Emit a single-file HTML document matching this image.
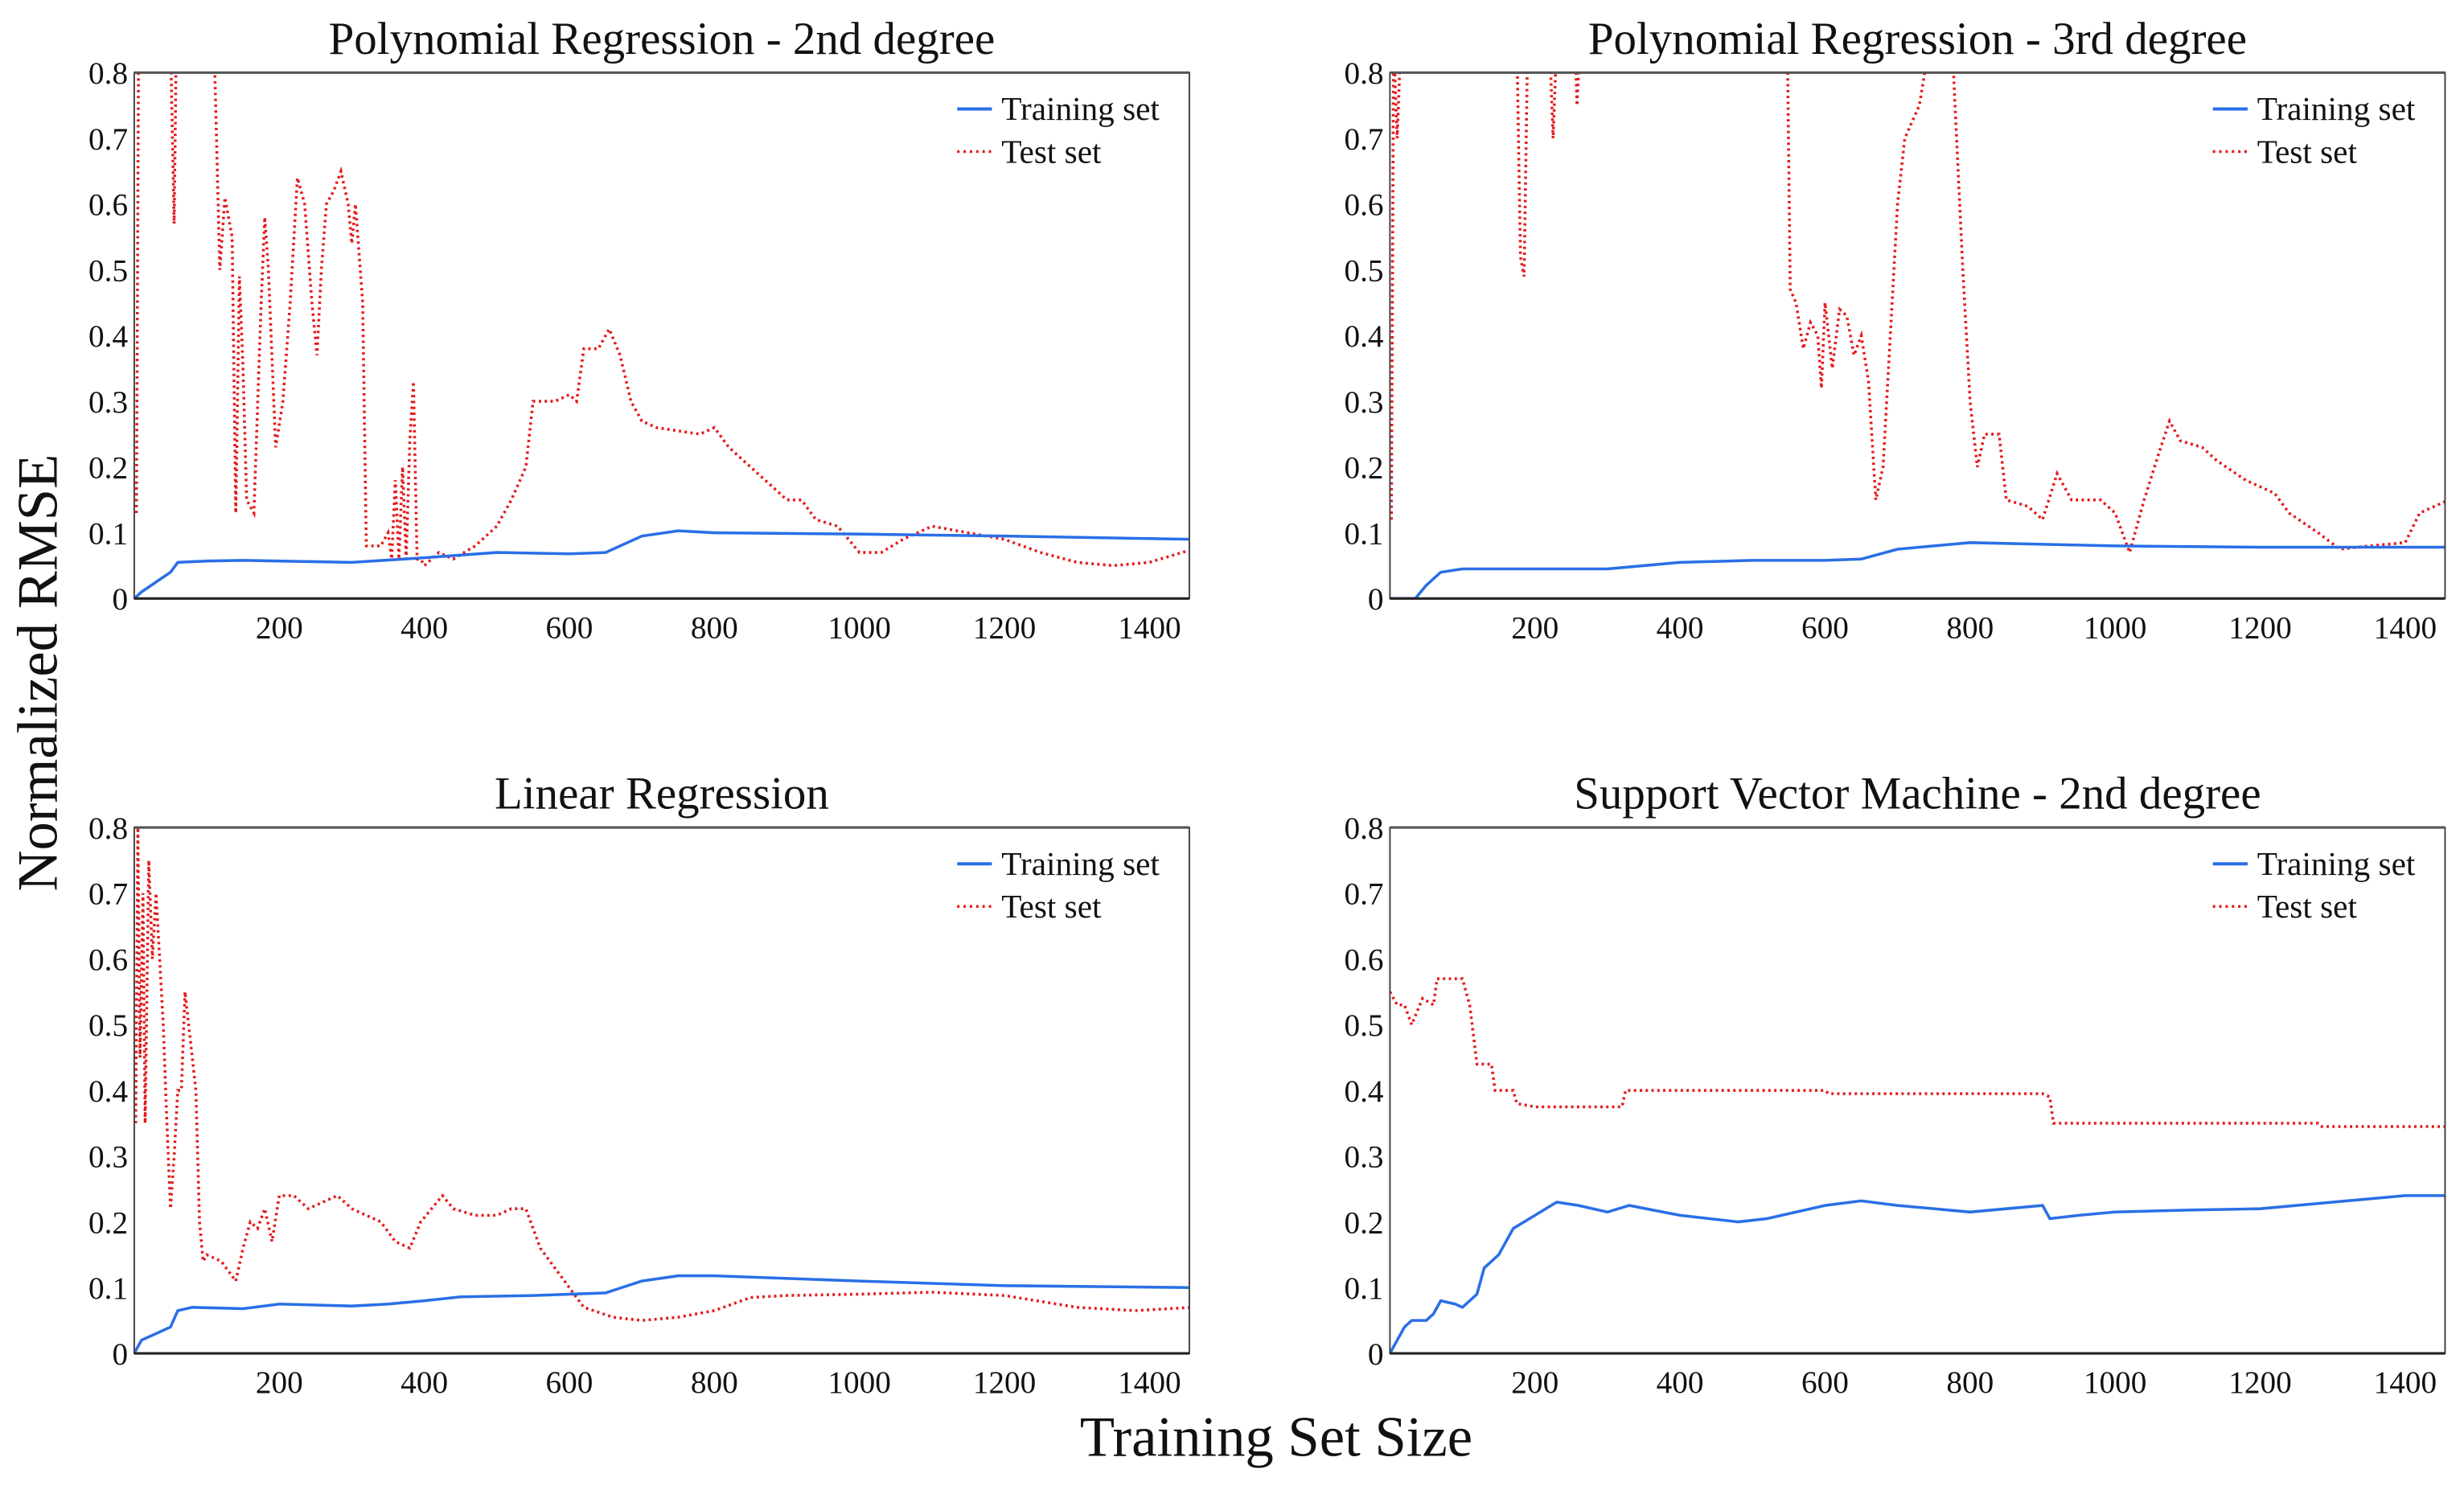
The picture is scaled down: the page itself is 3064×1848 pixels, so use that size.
<!DOCTYPE html>
<html><head><meta charset="utf-8"><style>
html,body{margin:0;padding:0;background:#fff;}
svg{display:block;}
text{font-family:"Liberation Serif",serif;fill:#111;}
</style></head><body>
<svg id="fig" width="3064" height="1848" viewBox="0 0 1560 941" preserveAspectRatio="none" xmlns="http://www.w3.org/2000/svg">
<text x="36" y="426" font-size="36" text-anchor="middle" transform="rotate(-90 36 426)">Normalized RMSE</text>
<text x="808" y="922" font-size="36" text-anchor="middle">Training Set Size</text>
</svg>
<script>
// ---- data ----
const panelTitles = ["Polynomial Regression - 2nd degree","Polynomial Regression - 3rd degree","Linear Regression","Support Vector Machine - 2nd degree"];
const xTicks = [200,400,600,800,1000,1200,1400];
const yTicks = [0,0.1,0.2,0.3,0.4,0.5,0.6,0.7,0.8];
const yTickLabels = ["0","0.1","0.2","0.3","0.4","0.5","0.6","0.7","0.8"];
const legendLabels = ["Training set","Test set"];

const poly2TrainX = [0,10,30,50,60,100,150,200,300,400,500,600,650,700,750,800,1000,1200,1460];
const poly2TrainY = [0,0.01,0.025,0.04,0.055,0.057,0.058,0.057,0.055,0.062,0.07,0.068,0.07,0.095,0.103,0.1,0.098,0.095,0.09];
const poly2TestX = [3,6,50,55,58,110,118,125,135,140,145,150,155,165,175,180,185,195,205,215,225,235,245,252,258,265,275,285,295,300,305,315,320,340,350,355,360,365,370,375,380,385,390,395,400,420,440,470,500,520,540,550,580,600,610,620,640,655,670,685,700,720,780,800,820,850,880,900,920,940,970,1000,1030,1060,1100,1150,1200,1250,1300,1350,1400,1460];
const poly2TestY = [0.13,0.85,0.85,0.57,0.85,0.85,0.5,0.61,0.55,0.13,0.49,0.35,0.15,0.13,0.45,0.58,0.5,0.23,0.3,0.45,0.64,0.6,0.45,0.37,0.5,0.6,0.62,0.65,0.6,0.54,0.6,0.45,0.08,0.08,0.1,0.06,0.18,0.06,0.2,0.06,0.24,0.33,0.06,0.06,0.05,0.07,0.06,0.08,0.11,0.15,0.2,0.3,0.3,0.31,0.3,0.38,0.38,0.41,0.37,0.3,0.27,0.26,0.25,0.26,0.23,0.2,0.17,0.15,0.15,0.12,0.11,0.07,0.07,0.09,0.11,0.1,0.09,0.07,0.055,0.05,0.055,0.075];

const poly3TrainX = [0,35,50,70,100,200,300,350,400,500,600,650,700,750,800,1000,1200,1460];
const poly3TrainY = [0,0,0.02,0.04,0.045,0.045,0.045,0.05,0.055,0.058,0.058,0.06,0.075,0.08,0.085,0.08,0.078,0.078];
const poly3TestX = [2,5,10,15,175,180,185,190,220,225,230,255,258,262,548,552,560,570,580,590,595,600,610,620,630,640,650,660,670,680,700,710,730,745,775,790,800,810,820,840,850,880,900,920,940,980,1000,1020,1040,1060,1075,1090,1120,1140,1180,1220,1240,1280,1310,1350,1400,1420,1460];
const poly3TestY = [0.12,0.85,0.7,0.85,0.85,0.52,0.49,0.85,0.85,0.7,0.85,0.85,0.75,0.85,0.85,0.47,0.45,0.38,0.42,0.4,0.32,0.45,0.35,0.44,0.43,0.37,0.4,0.33,0.15,0.2,0.6,0.7,0.75,0.85,0.85,0.5,0.3,0.2,0.25,0.25,0.15,0.14,0.12,0.19,0.15,0.15,0.13,0.07,0.15,0.22,0.27,0.24,0.23,0.21,0.18,0.16,0.13,0.1,0.075,0.08,0.085,0.13,0.15];

const linTrainX = [0,10,30,50,60,80,150,200,300,350,400,450,550,650,700,750,800,1000,1200,1460];
const linTrainY = [0,0.02,0.03,0.04,0.065,0.07,0.068,0.075,0.072,0.075,0.08,0.086,0.088,0.092,0.11,0.118,0.118,0.11,0.103,0.1];
const linTestX = [2,5,8,12,15,20,25,30,35,40,45,50,55,60,65,70,75,80,85,90,95,100,120,140,150,160,170,180,190,200,220,240,260,280,300,320,340,360,380,395,410,425,440,470,500,520,540,560,580,600,620,660,700,750,800,850,900,1000,1100,1200,1300,1380,1460];
const linTestY = [0.35,0.8,0.45,0.7,0.35,0.75,0.6,0.7,0.6,0.5,0.35,0.22,0.3,0.4,0.4,0.55,0.5,0.45,0.4,0.2,0.14,0.15,0.14,0.11,0.16,0.2,0.19,0.22,0.17,0.24,0.24,0.22,0.23,0.24,0.22,0.21,0.2,0.17,0.16,0.2,0.22,0.24,0.22,0.21,0.21,0.22,0.22,0.16,0.13,0.1,0.07,0.055,0.05,0.055,0.065,0.085,0.088,0.09,0.093,0.088,0.07,0.065,0.07];

const svmTrainX = [0,10,20,30,50,60,70,90,100,120,130,150,170,200,230,260,300,330,400,480,520,600,650,700,800,850,900,910,950,1000,1100,1200,1300,1400,1460];
const svmTrainY = [0,0.02,0.04,0.05,0.05,0.06,0.08,0.075,0.07,0.09,0.13,0.15,0.19,0.21,0.23,0.225,0.215,0.225,0.21,0.2,0.205,0.225,0.232,0.225,0.215,0.22,0.225,0.205,0.21,0.215,0.218,0.22,0.23,0.24,0.24];
const svmTestX = [0,10,20,30,45,60,65,100,110,120,140,145,170,175,200,320,325,600,605,900,910,915,1280,1285,1460];
const svmTestY = [0.55,0.53,0.53,0.5,0.54,0.53,0.57,0.57,0.53,0.44,0.44,0.4,0.4,0.38,0.375,0.375,0.4,0.4,0.395,0.395,0.39,0.35,0.35,0.345,0.345];

const panels = [
 {name:"poly2", left:85, top:46, trX:poly2TrainX, trY:poly2TrainY, teX:poly2TestX, teY:poly2TestY},
 {name:"poly3", left:880, top:46, trX:poly3TrainX, trY:poly3TrainY, teX:poly3TestX, teY:poly3TestY},
 {name:"linear", left:85, top:524, trX:linTrainX, trY:linTrainY, teX:linTestX, teY:linTestY},
 {name:"svm", left:880, top:524, trX:svmTrainX, trY:svmTrainY, teX:svmTestX, teY:svmTestY}
];
const NS="http://www.w3.org/2000/svg";
const svg=document.getElementById('fig');
const W=668, H=333, XMAX=1455, YMAX=0.8;
function mk(tag,attrs,parent){const e=document.createElementNS(NS,tag);for(const k in attrs)e.setAttribute(k,attrs[k]);(parent||svg).appendChild(e);return e;}
panels.forEach((p,i)=>{
 const g=mk('g',{});
 
 
 const xs=v=>p.left+v/XMAX*W, ys=v=>p.top+H-v/YMAX*H;
 const t=mk('text',{x:p.left+W/2,y:p.top-12,'font-size':29,'text-anchor':'middle'},g);
 t.textContent=panelTitles[i];
 
 
 const cp=mk('clipPath',{id:'c'+i},g);
 mk('rect',{x:p.left,y:p.top,width:W,height:H},cp);
 const pts=(X,Y)=>X.map((x,j)=>xs(x).toFixed(2)+','+ys(Y[j]).toFixed(2)).join(' ');
 const te=mk('polyline',{points:pts(p.teX,p.teY),fill:'none',stroke:'#e41a1c','stroke-width':1.8,'stroke-dasharray':'1.5,2.2','clip-path':'url(#c'+i+')'},g);
 
 
 const tr=mk('polyline',{points:pts(p.trX,p.trY),fill:'none',stroke:'#2a6fe6','stroke-width':1.8,'clip-path':'url(#c'+i+')'},g);
 
 
 const fr=mk('rect',{x:p.left,y:p.top,width:W,height:H,fill:'none',stroke:'#444','stroke-width':1},g);
 
 
 mk('line',{x1:p.left,y1:p.top+H,x2:p.left+W,y2:p.top+H,stroke:'#222','stroke-width':1.6},g);
 mk('line',{x1:p.left,y1:p.top,x2:p.left+W,y2:p.top,stroke:'#555','stroke-width':1.6},g);
 xTicks.forEach(v=>{const l=mk('text',{x:xs(v),y:p.top+H+25,'font-size':20,'text-anchor':'middle'},g);l.textContent=v;
  
  });
 yTicks.forEach((v,j)=>{const l=mk('text',{x:p.left-4,y:ys(v)+7,'font-size':20,'text-anchor':'end'},g);l.textContent=yTickLabels[j];
  
  });
 const lx=p.left+W-147, ly=p.top+23;
 const l1=mk('line',{x1:lx,y1:ly,x2:lx+22,y2:ly,stroke:'#2a6fe6','stroke-width':2},g);
 
 
 const l2=mk('line',{x1:lx,y1:ly+27,x2:lx+22,y2:ly+27,stroke:'#e41a1c','stroke-width':1.8,'stroke-dasharray':'1.5,2.5'},g);
 
 
 legendLabels.forEach((s,j)=>{const l=mk('text',{x:lx+28,y:ly+7+27*j,'font-size':21},g);l.textContent=s;
  
  });
});
</script>
</body></html>
